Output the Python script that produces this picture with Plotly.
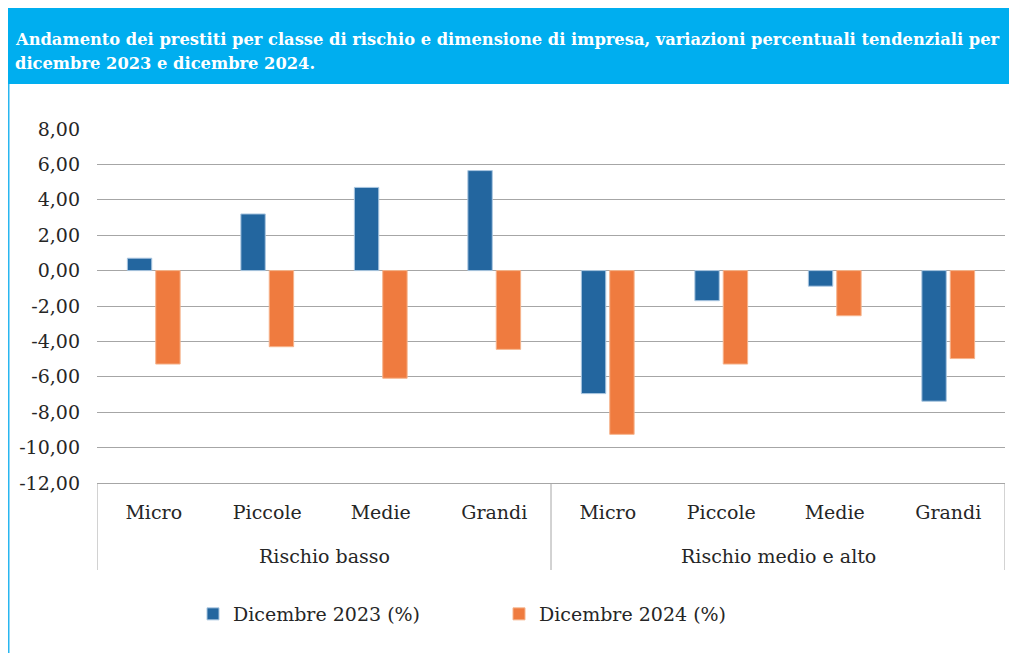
import plotly.graph_objects as go

groups = ["Rischio basso", "Rischio medio e alto"]
sizes = ["Micro", "Piccole", "Medie", "Grandi"]
dic2023 = [0.70, 3.20, 4.70, 5.65, -6.95, -1.70, -0.88, -7.38]
dic2024 = [-5.28, -4.30, -6.08, -4.45, -9.25, -5.28, -2.55, -4.97]
series_names = ["Dicembre 2023 (%)", "Dicembre 2024 (%)"]
y_tick_vals = [8, 6, 4, 2, 0, -2, -4, -6, -8, -10, -12]
y_tick_text = ["8,00", "6,00", "4,00", "2,00", "0,00", "-2,00", "-4,00", "-6,00",
               "-8,00", "-10,00", "-12,00"]
title_lines = ["Andamento dei prestiti per classe di rischio e dimensione di impresa, "
               "variazioni percentuali tendenziali per",
               "dicembre 2023 e dicembre 2024."]

FONT = "DejaVu Serif"
TXT = "#262626"
GRID = "#A6A6A6"
# figure coordinates (page has an 8px body margin)
W, H = 1009, 645
L, R, T, B = 89, 997, 121, 475

def px(x):
    return (x - L) / (R - L)

def py(y):
    return (B - y) / (B - T)

n_groups = len(groups)
n_sizes = len(sizes)
cat_labels = [s for _ in groups for s in sizes]
cat_pos = list(range(len(cat_labels)))

fig = go.Figure()
fig.add_trace(go.Bar(x=cat_pos, y=dic2023, name=series_names[0],
                     marker=dict(color="#23669F", line=dict(color="#A9C6E0", width=1))))
fig.add_trace(go.Bar(x=cat_pos, y=dic2024, name=series_names[1],
                     marker=dict(color="#EF7B3F", line=dict(color="#F6B48C", width=1))))

shapes = [
    dict(type="rect", xref="paper", yref="paper", x0=px(0), x1=px(W + 2), y0=py(76), y1=py(0),
         fillcolor="#00AEEF", line=dict(width=0), layer="below"),
    dict(type="line", xref="paper", yref="paper", x0=px(0.75), x1=px(0.75), y0=py(76), y1=py(H + 2),
         line=dict(color="#29B6F0", width=1.5)),
]
# group dividers on the category axis
for g in range(n_groups + 1):
    xd = g * n_sizes - 0.5
    shapes.append(dict(type="line", xref="x", yref="paper", x0=xd, x1=xd, y0=0, y1=py(562),
                       line=dict(color=GRID, width=1)))

annotations = []
for i, line in enumerate(title_lines):
    annotations.append(dict(text="<b>" + line + "</b>", xref="paper", yref="paper",
                            x=px(5), y=py(31 + 25 * i), xanchor="left", yanchor="middle",
                            align="left", showarrow=False,
                            font=dict(family=FONT, size=16.3, color="white")))
for g, name in enumerate(groups):
    xc = g * n_sizes + (n_sizes - 1) / 2
    annotations.append(dict(text=name, xref="x", yref="paper", x=xc, y=py(548),
                            xanchor="center", yanchor="middle", showarrow=False,
                            font=dict(family=FONT, size=19, color=TXT)))

fig.update_layout(
    width=W, height=H,
    margin=dict(l=L, r=W - R, t=T, b=H - B, pad=0),
    paper_bgcolor="white", plot_bgcolor="white",
    font=dict(family=FONT, size=19, color=TXT),
    barmode="group", bargap=0.5, bargroupgap=0.14,
    showlegend=True,
    legend=dict(orientation="h", x=px(185), xanchor="left", y=py(606), yanchor="middle",
                font=dict(family=FONT, size=19, color=TXT),
                itemwidth=30, entrywidth=261, entrywidthmode="pixels",
                bgcolor="rgba(0,0,0,0)"),
    shapes=shapes,
    annotations=annotations,
)

fig.update_yaxes(range=[-12, 8], tickvals=y_tick_vals, ticktext=y_tick_text,
                 showgrid=True, gridcolor=GRID, gridwidth=1.3,
                 zeroline=True, zerolinecolor=GRID, zerolinewidth=1.3,
                 showline=False, ticks="", ticklabelstandoff=16,
                 tickfont=dict(family=FONT, size=19, color=TXT))
fig.update_xaxes(type="linear", range=[-0.5, len(cat_labels) - 0.5],
                 tickvals=cat_pos, ticktext=cat_labels, showgrid=False, zeroline=False,
                 showline=True, linecolor=GRID, linewidth=1.3,
                 ticks="", ticklabelstandoff=12,
                 tickfont=dict(family=FONT, size=19, color=TXT))

fig.write_html("out.html")
